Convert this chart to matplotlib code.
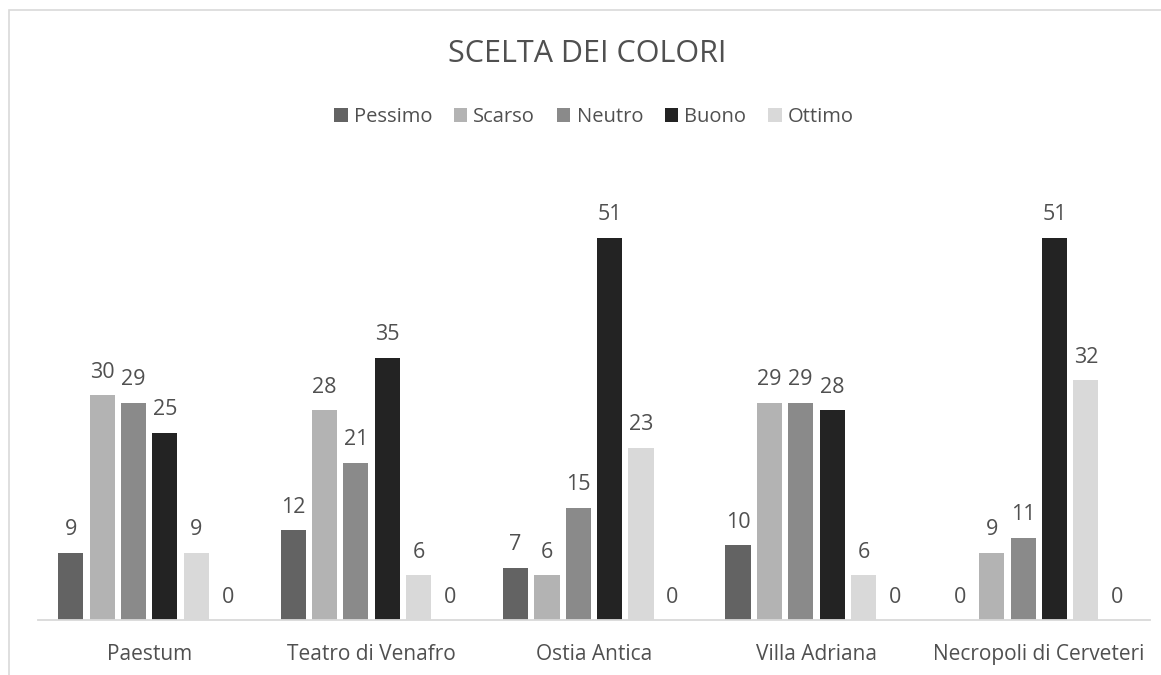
import matplotlib
matplotlib.use("Agg")
import matplotlib.pyplot as plt
from matplotlib.patches import Rectangle, Patch
import numpy as np

categories = ["Paestum", "Teatro di Venafro", "Ostia Antica", "Villa Adriana", "Necropoli di Cerveteri"]
series_names = ["Pessimo", "Scarso", "Neutro", "Buono", "Ottimo", ""]
pessimo = [9, 12, 7, 10, 0]
scarso = [30, 28, 6, 29, 9]
neutro = [29, 21, 15, 29, 11]
buono = [25, 35, 51, 28, 51]
ottimo = [9, 6, 23, 6, 32]
extra = [0, 0, 0, 0, 0]
series = [pessimo, scarso, neutro, buono, ottimo, extra]
colors = ["#636363", "#b3b3b3", "#8a8a8a", "#232323", "#d9d9d9", "#ffffff"]

plt.rcParams['font.family'] = ['Open Sans', 'DejaVu Sans']
txt = "#505050"

fig = plt.figure(figsize=(11.61, 6.75), dpi=100)
W, H = 1161, 675
ax = fig.add_axes([38 / W, (H - 620) / H, 1112 / W, 450 / H])

n = len(series)
slot = 0.141
bw = 0.113
x = np.arange(len(categories))
for i, (vals, c) in enumerate(zip(series, colors)):
    pos = x + (i - (n - 1) / 2) * slot
    ax.bar(pos, vals, width=bw, color=c, zorder=2)
    for p, v in zip(pos, vals):
        ax.text(p, v + 2.3, str(v), ha="center", va="baseline", fontsize=15.5, color=txt)

ax.set_xlim(-0.5, len(categories) - 0.5)
ax.set_ylim(0, 60)
ax.set_yticks([])
ax.set_xticks(x)
ax.set_xticklabels(categories, fontsize=15, color=txt)
ax.tick_params(axis="x", length=0, pad=17)
for s in ["top", "right", "left"]:
    ax.spines[s].set_visible(False)
ax.spines["bottom"].set_color("#d9d9d9")
ax.spines["bottom"].set_linewidth(1.3)

fig.text(587 / W, 1 - 54 / H, "SCELTA DEI COLORI", ha="center", va="center", fontsize=22, color=txt)

handles = [Patch(facecolor=c, label=nm) for nm, c in zip(series_names[:5], colors[:5])]
fig.legend(handles=handles, loc="center", bbox_to_anchor=(594 / W, 1 - 117 / H), ncol=5,
           frameon=False, fontsize=14.5, labelcolor=txt, handlelength=0.65, handleheight=0.65,
           handletextpad=0.3, columnspacing=1.1)

fig.patches.append(Rectangle((9 / W, -0.5), 2, (1 - 10 / H) + 0.5, transform=fig.transFigure,
                             fill=False, edgecolor="#d9d9d9", linewidth=1.2))

fig.savefig("out.png", dpi=100, facecolor="white")
